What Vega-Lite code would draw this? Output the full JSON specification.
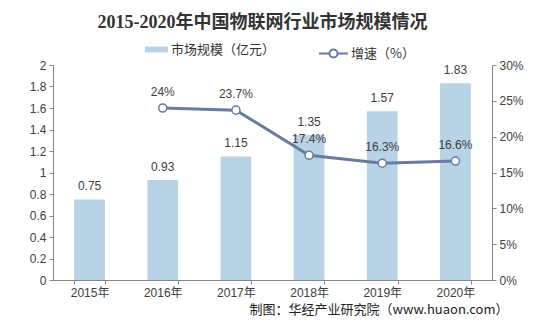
{
  "$schema": "https://vega.github.io/schema/vega-lite/v6.json",
  "width": 439,
  "height": 215,
  "autosize": "none",
  "padding": {"left": 53, "top": 65, "right": 41, "bottom": 53},
  "background": "white",
  "config": {
    "view": {"stroke": null},
    "axis": {
      "labelFont": "Liberation Sans, Noto Sans CJK SC",
      "labelFontSize": 12,
      "labelColor": "#404040",
      "domainColor": "#868686",
      "tickColor": "#868686",
      "tickSize": 4,
      "grid": false
    },
    "legend": {
      "padding": 0,
      "labelFont": "Noto Sans CJK SC",
      "labelFontSize": 13,
      "labelColor": "#333333"
    }
  },
  "title": {
    "text": "2015-2020年中国物联网行业市场规模情况",
    "font": "Liberation Serif, Noto Sans CJK SC",
    "fontSize": 18,
    "fontWeight": "bold",
    "color": "#333333",
    "anchor": "middle",
    "dx": -10,
    "offset": 6
  },
  "data": {
    "values": [
      {"year": "2015年", "size": 0.75, "rate": null},
      {"year": "2016年", "size": 0.93, "rate": 0.24},
      {"year": "2017年", "size": 1.15, "rate": 0.237},
      {"year": "2018年", "size": 1.35, "rate": 0.174},
      {"year": "2019年", "size": 1.57, "rate": 0.163},
      {"year": "2020年", "size": 1.83, "rate": 0.166}
    ]
  },
  "encoding": {
    "x": {
      "field": "year",
      "type": "nominal",
      "sort": null,
      "scale": {"paddingInner": 0.58, "paddingOuter": 0.29},
      "axis": {
        "labelAngle": 0,
        "tickBand": "extent",
        "labelPadding": 3,
        "title": "制图：华经产业研究院（www.huaon.com）",
        "titleFont": "Noto Sans CJK SC",
        "titleFontSize": 13,
        "titleFontWeight": "normal",
        "titleColor": "#222222",
        "titleAnchor": "end",
        "titleAlign": "right",
        "titleBaseline": "top",
        "titleX": 455,
        "titleY": 23
      }
    }
  },
  "layer": [
    {
      "encoding": {
        "y": {
          "field": "size",
          "type": "quantitative",
          "scale": {"domain": [0, 2]},
          "axis": {
            "values": [0, 0.2, 0.4, 0.6, 0.8, 1, 1.2, 1.4, 1.6, 1.8, 2],
            "format": "~g",
            "title": null,
            "labelPadding": 3
          }
        }
      },
      "layer": [
        {
          "mark": {"type": "bar"},
          "encoding": {
            "fill": {
              "datum": "市场规模（亿元）",
              "scale": {"range": ["#b8d3e6"]},
              "legend": {
                "title": null,
                "orient": "none",
                "legendX": 92,
                "legendY": -27,
                "symbolType": "M-1,-0.26H1V0.26H-1Z",
                "symbolSize": 529,
                "symbolStrokeWidth": 0,
                "labelOffset": 3
              }
            }
          }
        },
        {
          "mark": {"type": "text", "baseline": "bottom", "dy": -6, "font": "Liberation Sans", "fontSize": 12, "color": "#404040"},
          "encoding": {"text": {"field": "size", "type": "quantitative", "format": ".2f"}}
        }
      ]
    },
    {
      "transform": [{"filter": "datum.rate != null"}],
      "encoding": {
        "y": {
          "field": "rate",
          "type": "quantitative",
          "scale": {"domain": [0, 0.3]},
          "axis": {
            "orient": "right",
            "values": [0, 0.05, 0.1, 0.15, 0.2, 0.25, 0.3],
            "format": ".0%",
            "title": null,
            "labelPadding": 3
          }
        }
      },
      "layer": [
        {
          "mark": {"type": "line", "strokeWidth": 3},
          "encoding": {
            "stroke": {
              "datum": "增速（%）",
              "scale": {"range": ["#6a7aa0"]},
              "legend": {
                "title": null,
                "orient": "none",
                "legendX": 265,
                "legendY": -27,
                "symbolType": "M-1,0H-0.28M0.28,0H1M-0.28,0A0.28,0.28,0,1,1,0.28,0A0.28,0.28,0,1,1,-0.28,0",
                "symbolSize": 841,
                "symbolStrokeWidth": 2,
                "labelOffset": 2,
                "encode": {"symbols": {"update": {"fill": {"value": "white"}, "strokeWidth": {"value": 2}}}}
              }
            }
          }
        },
        {
          "mark": {"type": "point", "filled": true, "fill": "white", "stroke": "#6a7aa0", "strokeWidth": 1.5, "size": 65, "opacity": 1}
        },
        {
          "mark": {"type": "text", "baseline": "bottom", "dy": -9, "font": "Liberation Sans", "fontSize": 12, "color": "#404040"},
          "encoding": {"text": {"field": "rate", "type": "quantitative", "format": ".3~%"}}
        }
      ]
    }
  ],
  "resolve": {"scale": {"y": "independent"}}
}
